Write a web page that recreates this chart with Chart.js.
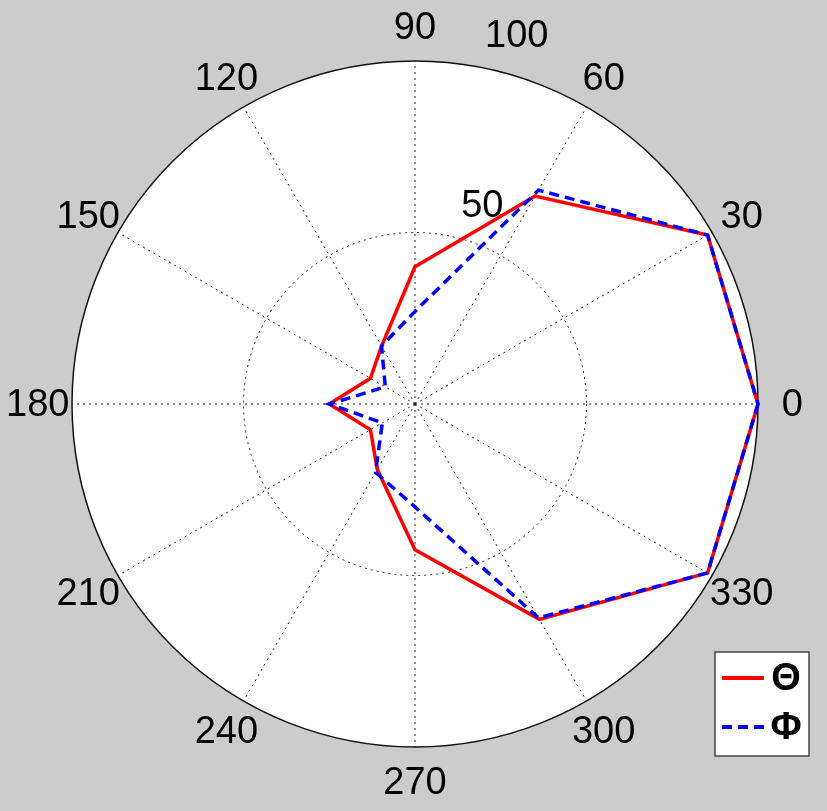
<!DOCTYPE html>
<html>
<head>
<meta charset="utf-8">
<script src="https://cdn.jsdelivr.net/npm/chart.js@4/dist/chart.umd.min.js"></script>
<style>
  html, body { margin: 0; padding: 0; background: #cccccc; }
  canvas { display: block; }
</style>
</head>
<body>
<canvas id="c" width="827" height="811"></canvas>
<script>
// ---- data (MATLAB polar order: counter-clockwise from 0 deg) ----
const thetaDeg   = [0, 30, 60, 90, 120, 150, 180, 210, 240, 270, 300, 330];
const thetaSeries = [100, 98.5, 70, 40, 19.5, 15, 25, 15, 22, 42.5, 72.5, 98.5];   // Θ
const phiSeries   = [100, 98.5, 72, 27, 19.5, 10, 25, 11, 23, 30, 72, 98.5];       // Φ
const ringTicks   = [50, 100];
const seriesNames = ['Θ', 'Φ'];

// Chart.js radar goes clockwise, so reorder: 0, 330, 300, ... 30
const order = [0].concat(thetaDeg.map((_, i) => i).slice(1).reverse());
const labels = order.map(i => String(thetaDeg[i]));
const dataTheta = order.map(i => thetaSeries[i]);
const dataPhi = order.map(i => phiSeries[i]);

const FONT = 'Arial, "Liberation Sans", sans-serif';
const FSIZE = 38;

const overlay = {
  id: 'overlay',
  afterDraw(chart) {
    const ctx = chart.ctx;
    const s = chart.scales.r;
    const R = s.drawingArea;
    ctx.save();
    ctx.fillStyle = '#000';
    ctx.font = FSIZE + 'px ' + FONT;
    ctx.textAlign = 'center';
    ctx.textBaseline = 'middle';
    // angle labels
    labels.forEach((lab, i) => {
      const p = s.getPointPosition(i, R * 1.1);
      ctx.fillText(lab, p.x, p.y + 2);
    });
    // ring labels (MATLAB style at 82 degrees)
    const a = 82 * Math.PI / 180;
    ctx.textAlign = 'left';
    ctx.textBaseline = 'bottom';
    ringTicks.forEach(v => {
      const d = s.getDistanceFromCenterForValue(v + 2.5);
      const x = s.xCenter + d * Math.cos(a);
      const y = s.yCenter - d * Math.sin(a);
      ctx.fillText('  ' + v, x, y);
    });
    // legend
    const bx = 715, by = 652, bw = 94, bh = 104;
    ctx.fillStyle = '#ffffff';
    ctx.fillRect(bx, by, bw, bh);
    ctx.strokeStyle = '#444';
    ctx.lineWidth = 1.5;
    ctx.strokeRect(bx, by, bw, bh);
    const ds = chart.data.datasets;
    const rows = [678, 727];
    ds.forEach((d, k) => {
      ctx.beginPath();
      ctx.strokeStyle = d.borderColor;
      ctx.lineWidth = 4;
      ctx.setLineDash(d.borderDash || []);
      ctx.moveTo(722, rows[k]);
      ctx.lineTo(764, rows[k]);
      ctx.stroke();
      ctx.setLineDash([]);
      ctx.fillStyle = '#000';
      ctx.font = 'bold ' + FSIZE + 'px ' + FONT;
      ctx.textAlign = 'center';
      ctx.textBaseline = 'middle';
      ctx.fillText(d.label, 786, rows[k] + 2);
    });
    ctx.restore();
  }
};

new Chart(document.getElementById('c'), {
  type: 'radar',
  data: {
    labels: labels,
    datasets: [
      { label: seriesNames[0], data: dataTheta, borderColor: '#ff0000', borderWidth: 3.5,
        pointRadius: 0, fill: false, tension: 0, order: 1 },
      { label: seriesNames[1], data: dataPhi, borderColor: '#0000ff', borderWidth: 3.5,
        borderDash: [10, 6], pointRadius: 0, fill: false, tension: 0, order: 0 }
    ]
  },
  options: {
    responsive: false,
    animation: false,
    layout: { padding: { left: 65, right: 62, top: 61, bottom: 64 } },
    plugins: { legend: { display: false }, tooltip: { enabled: false } },
    elements: { line: { borderCapStyle: 'butt', borderJoinStyle: 'miter' } },
    scales: {
      r: {
        min: 0, max: 100,
        startAngle: 90,
        backgroundColor: '#ffffff',
        ticks: { display: false, stepSize: 50 },
        pointLabels: { display: false },
        grid: {
          circular: true,
          color: (c) => c.index === 2 ? '#111' : '#222',
          lineWidth: (c) => c.index === 2 ? 1.5 : 1,
          borderDash: (c) => c.index === 2 ? [] : [2, 4]
        },
        border: { dash: (c) => c.index === 2 ? [] : [2, 4] },
        angleLines: { display: true, color: '#222', lineWidth: 1, borderDash: [2, 4] }
      }
    }
  },
  plugins: [overlay]
});
</script>
</body>
</html>
